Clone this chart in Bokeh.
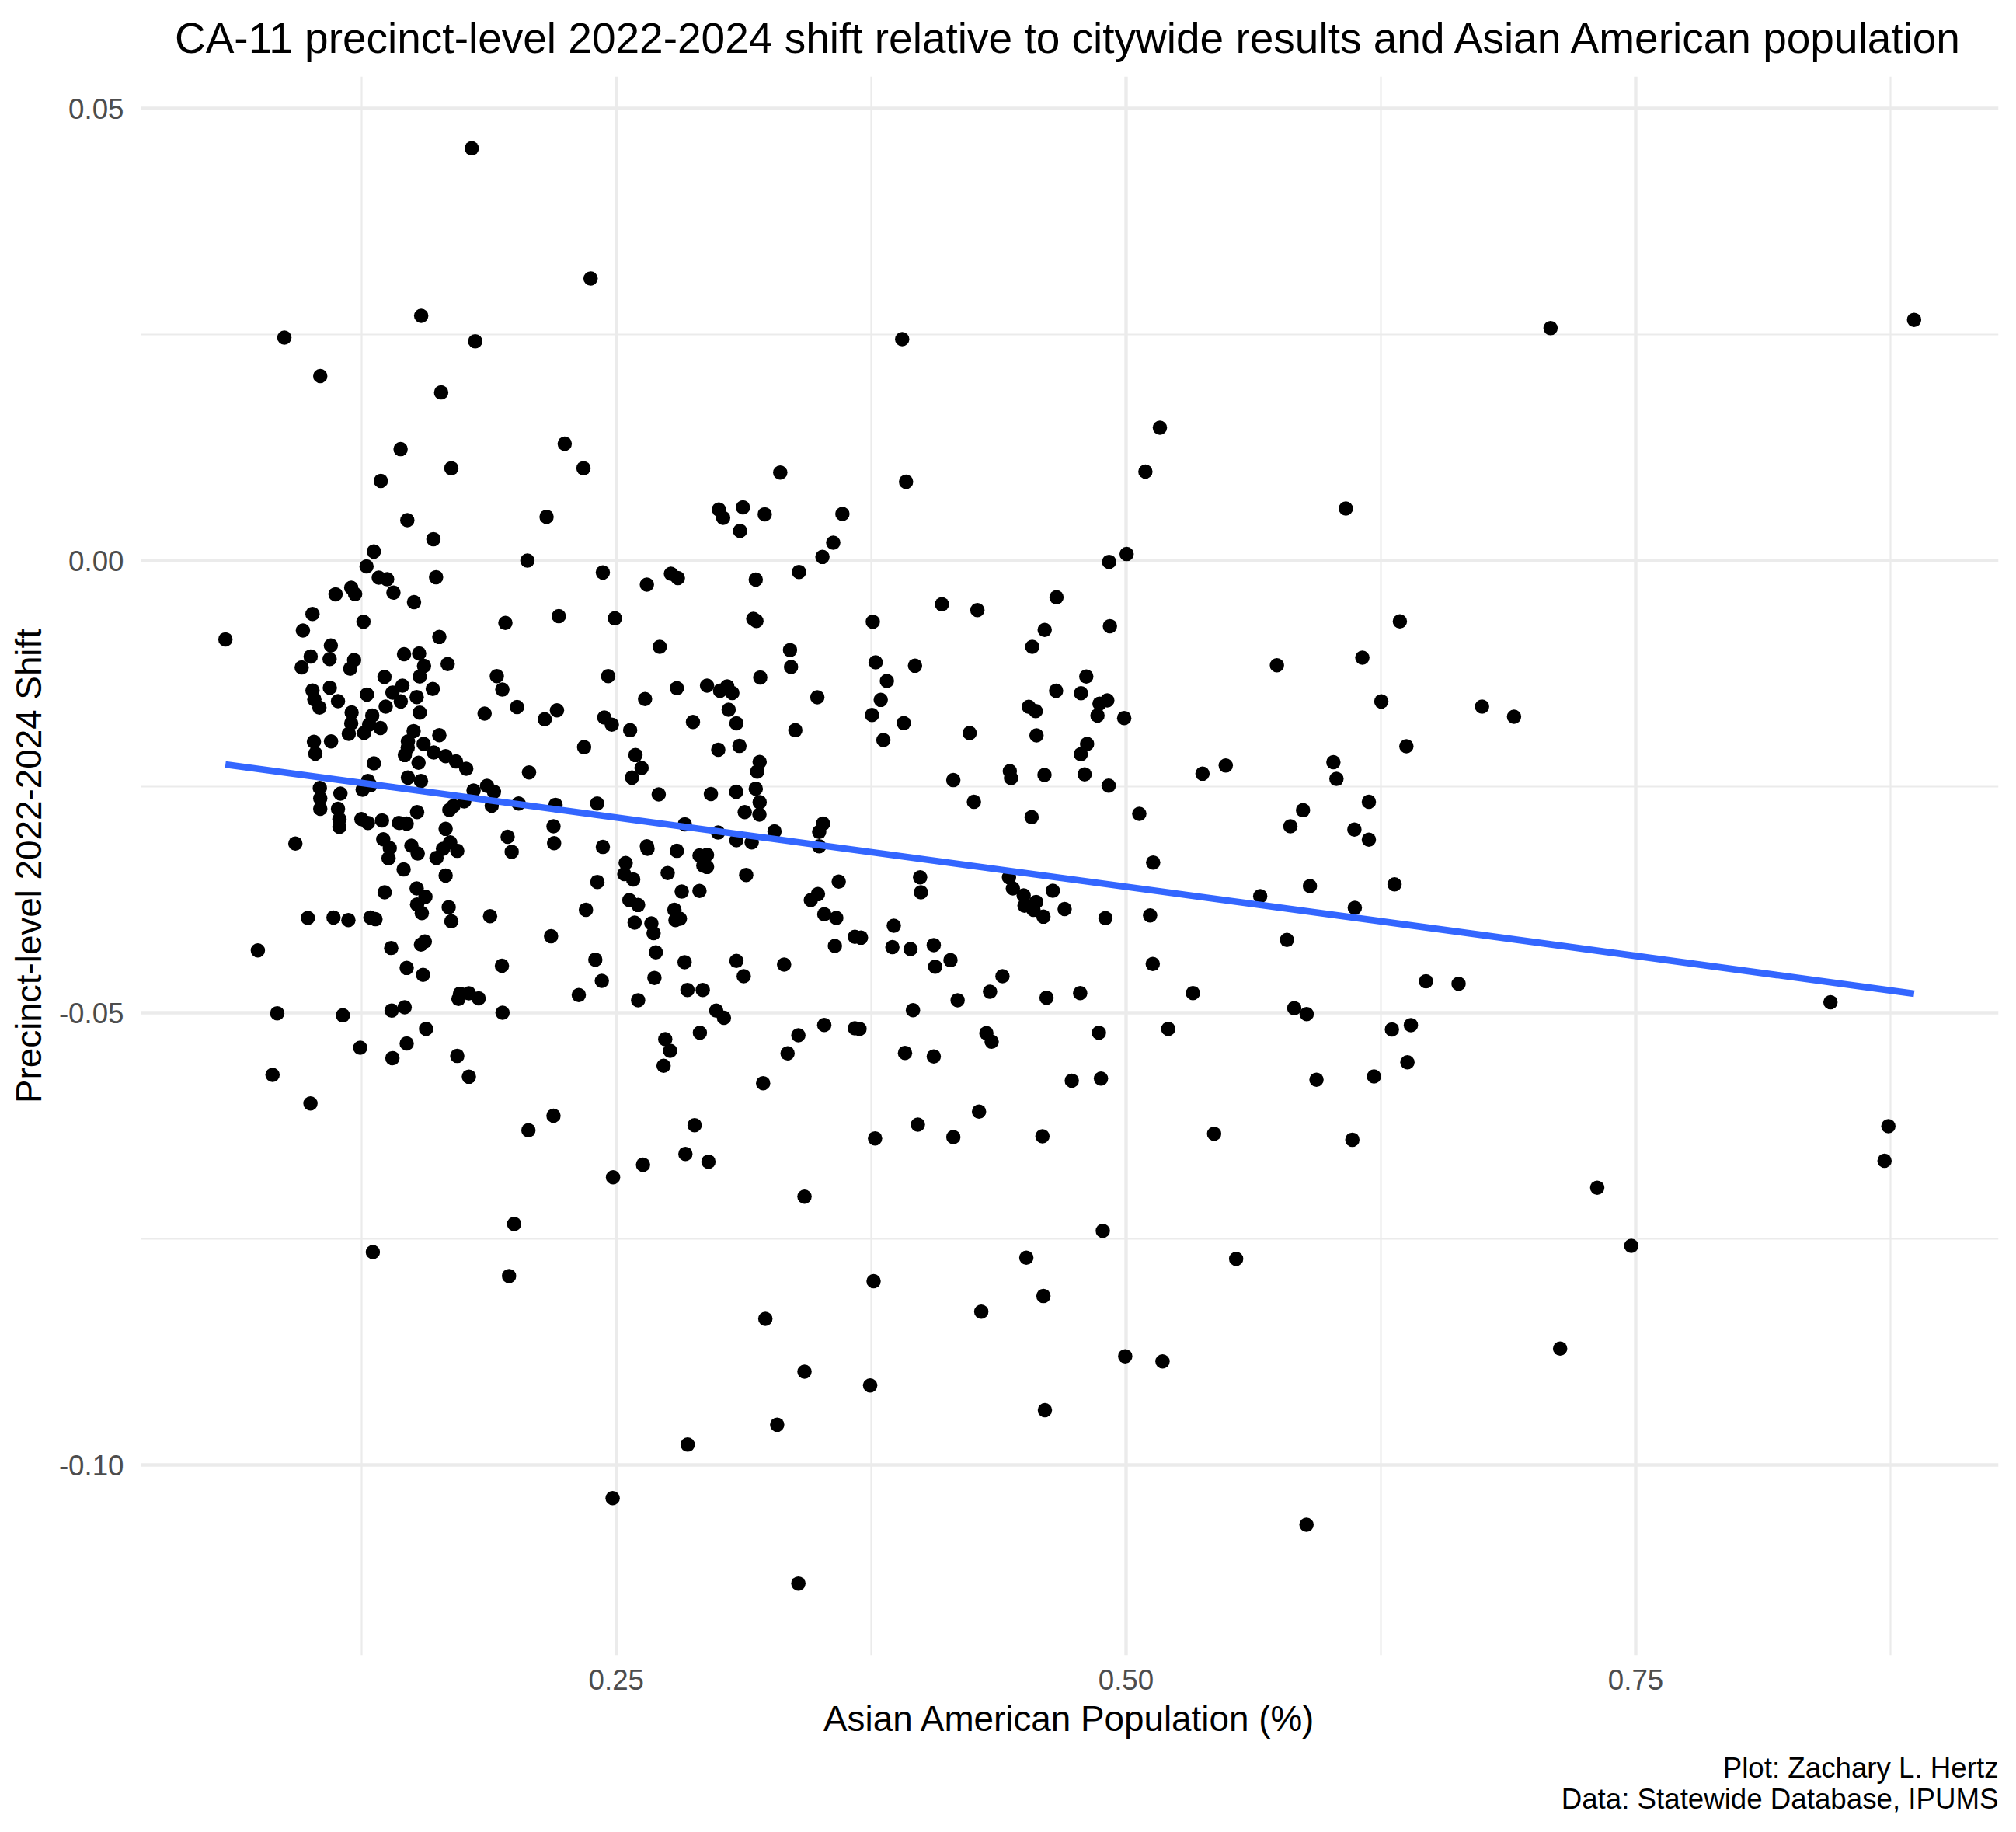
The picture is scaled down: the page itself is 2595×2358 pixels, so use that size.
import numpy as np
from bokeh.plotting import figure
from bokeh.models import Range1d, FixedTicker, NumeralTickFormatter, Title
from bokeh.embed import file_html
from bokeh.resources import INLINE

TITLE = "CA-11 precinct-level 2022-2024 shift relative to citywide results and Asian American population"
X_LABEL = "Asian American Population (%)"
Y_LABEL = "Precinct-level 2022-2024 Shift"
CAPTION_LINES = ["Plot: Zachary L. Hertz", "Data: Statewide Database, IPUMS"]

x_ticks = [0.25, 0.50, 0.75]
x_minor = [0.125, 0.375, 0.625, 0.875]
y_ticks = [-0.10, -0.05, 0.00, 0.05]
y_minor = [-0.075, -0.025, 0.025]

asian_pop = [
    0.1791, 0.2374, 0.1543, 0.0872, 0.1808, 0.3902, 0.1048, 0.1641, 0.5166, 0.1442,
    0.2247, 0.7082, 0.8865, 0.5095, 0.3921, 0.1691, 0.1345, 0.1475, 0.1603, 0.1311,
    0.2064, 0.1275, 0.1335, 0.1376, 0.1407, 0.1616, 0.1123, 0.1200, 0.1219, 0.1508,
    0.1010, 0.1260, 0.0963, 0.0583, 0.1956, 0.1632, 0.1100, 0.1001, 0.0957, 0.1094,
    0.1214, 0.1195, 0.1459, 0.1533, 0.1557, 0.1536, 0.1521, 0.1600, 0.1673, 0.1363,
    0.1451, 0.1402, 0.1443, 0.1277, 0.1010, 0.1019, 0.1044, 0.1095, 0.1135, 0.1914,
    0.1941, 0.2013, 0.1854, 0.1369, 0.1536, 0.1202, 0.1200, 0.1188, 0.1303, 0.1288,
    0.1343, 0.1263, 0.1017, 0.1024, 0.1101, 0.1506, 0.1478, 0.1463, 0.1555, 0.1530,
    0.1477, 0.1632, 0.1605, 0.1663, 0.1714, 0.1764, 0.1311, 0.2072, 0.1282, 0.1294,
    0.1256, 0.1478, 0.1542, 0.1046, 0.1048, 0.1048, 0.1147, 0.1135, 0.1800, 0.1866,
    0.1900, 0.1754, 0.1889, 0.1701, 0.1681, 0.2021, 0.1523, 0.1142, 0.1142, 0.1250,
    0.1282, 0.1351, 0.1434, 0.1472, 0.1663, 0.1685, 0.1720, 0.1618, 0.1650, 0.1967,
    0.1987, 0.0926, 0.1357, 0.1389, 0.1383, 0.1495, 0.1526, 0.1457, 0.1663, 0.1364,
    0.1521, 0.1564, 0.1523, 0.1546, 0.1678, 0.1691, 0.1881, 0.0987, 0.1113, 0.1186,
    0.1294, 0.1319, 0.0742, 0.1396, 0.1542, 0.1561, 0.1472, 0.1552, 0.1939, 0.1733,
    0.1777, 0.1825, 0.1726, 0.0837, 0.1159, 0.1398, 0.1462, 0.1942, 0.1567, 0.1244,
    0.1472, 0.1402, 0.1720, 0.1777, 0.0814, 0.1000, 0.2069, 0.2339, 0.3304, 0.2158,
    0.3003, 0.3024, 0.3121, 0.3228, 0.3107, 0.3609, 0.3564, 0.3511, 0.3396, 0.2434,
    0.2650, 0.2768, 0.2802, 0.3184, 0.2218, 0.2493, 0.3172, 0.3187, 0.2713, 0.3352,
    0.3357, 0.2460, 0.2797, 0.2945, 0.3009, 0.3044, 0.3069, 0.3206, 0.3486, 0.2641,
    0.2209, 0.2149, 0.2441, 0.2478, 0.2568, 0.2876, 0.3051, 0.3089, 0.3378, 0.2342,
    0.2594, 0.2624, 0.2577, 0.3000, 0.3104, 0.3203, 0.3191, 0.3184, 0.3203, 0.3130,
    0.3202, 0.2708, 0.2964, 0.3088, 0.2202, 0.2406, 0.2192, 0.2195, 0.2434, 0.2836,
    0.2999, 0.3089, 0.3164, 0.3276, 0.3514, 0.3495, 0.3495, 0.2650, 0.2653, 0.2797,
    0.2908, 0.2945, 0.2927, 0.2945, 0.2546, 0.2539, 0.2583, 0.2752, 0.2407, 0.3137,
    0.3591, 0.2821, 0.2908, 0.2564, 0.2607, 0.2351, 0.3489, 0.3454, 0.3520, 0.3579,
    0.2785, 0.2790, 0.2812, 0.2590, 0.2672, 0.2683, 0.2180, 0.2694, 0.2397, 0.2429,
    0.2835, 0.3089, 0.3125, 0.3323, 0.3572, 0.3670, 0.2687, 0.2316, 0.2607, 0.2849,
    0.2924, 0.2990, 0.3028, 0.2910, 0.2740, 0.2764, 0.2732, 0.3220, 0.3340, 0.3393,
    0.3520, 0.3670, 0.2192, 0.2884, 0.2839, 0.2952, 0.2631, 0.4097, 0.4271, 0.4659,
    0.5003, 0.4917, 0.4921, 0.4601, 0.4540, 0.3758, 0.3772, 0.3965, 0.3827, 0.3797,
    0.3754, 0.3910, 0.3810, 0.4233, 0.4805, 0.4779, 0.4657, 0.4523, 0.4557, 0.4908,
    0.4870, 0.4860, 0.4991, 0.4561, 0.4809, 0.4778, 0.4430, 0.4436, 0.4153, 0.4600,
    0.4797, 0.4915, 0.5375, 0.4254, 0.4537, 0.5065, 0.5133, 0.3990, 0.3994, 0.4426,
    0.4445, 0.4498, 0.4502, 0.4559, 0.4546, 0.4595, 0.4641, 0.4699, 0.4899, 0.5118,
    0.5131, 0.5328, 0.3700, 0.3861, 0.3854, 0.3943, 0.4057, 0.4064, 0.4139, 0.4394,
    0.4333, 0.4610, 0.4775, 0.4174, 0.3955, 0.3693, 0.4315, 0.4341, 0.4867, 0.5207,
    0.3916, 0.4057, 0.4734, 0.4877, 0.4279, 0.3979, 0.3769, 0.4153, 0.4590, 0.5432,
    0.4886, 0.2484, 0.3423, 0.1999, 0.1306, 0.4511, 0.5540, 0.1974, 0.3762, 0.4595,
    0.3231, 0.4290, 0.4996, 0.5179, 0.3423, 0.3745, 0.4602, 0.3289, 0.2850, 0.2482,
    0.3393, 0.6078, 0.6343, 0.5740, 0.6159, 0.6252, 0.6746, 0.6903, 0.6375, 0.5489,
    0.6017, 0.6032, 0.5868, 0.5806, 0.6191, 0.6120, 0.6191, 0.5902, 0.5658, 0.6317,
    0.6122, 0.5789, 0.6471, 0.6631, 0.8455, 0.5825, 0.5886, 0.6304, 0.6397, 0.6380,
    0.5934, 0.6216, 0.6110, 0.8739, 0.8720, 0.7311, 0.7478, 0.7129, 0.5885,
]

shift = [
    0.04562, 0.03122, 0.02709, 0.02469, 0.02429, 0.02452, 0.02043, 0.01862, 0.01472, 0.01235,
    0.01295, 0.02573, 0.02665, 0.00987, 0.00874, 0.01024, 0.00884, 0.00450, 0.00240, 0.00103,
    0.00002, -0.00062, -0.00186, -0.00204, -0.00352, -0.00181, -0.00370, -0.00298, -0.00369, -0.00456,
    -0.00588, -0.00673, -0.00770, -0.00868, -0.00687, -0.00842, -0.00936, -0.01057, -0.01179, -0.01086,
    -0.01097, -0.01194, -0.01032, -0.01023, -0.01162, -0.01280, -0.01506, -0.01417, -0.01142, -0.01283,
    -0.01380, -0.01458, -0.01555, -0.01478, -0.01435, -0.01532, -0.01623, -0.01403, -0.01552, -0.01275,
    -0.01424, -0.01617, -0.01690, -0.01612, -0.01679, -0.01676, -0.01797, -0.01913, -0.01710, -0.01811,
    -0.01848, -0.01902, -0.02001, -0.02131, -0.01996, -0.01882, -0.01996, -0.02148, -0.02024, -0.02233,
    -0.02067, -0.01927, -0.02119, -0.02159, -0.02219, -0.02300, -0.02240, -0.02340, -0.02434, -0.02483,
    -0.02532, -0.02397, -0.02434, -0.02512, -0.02627, -0.02741, -0.02574, -0.02741, -0.02540, -0.02489,
    -0.02554, -0.02661, -0.02707, -0.02712, -0.02755, -0.02684, -0.02778, -0.02856, -0.02941, -0.02856,
    -0.02898, -0.02870, -0.02898, -0.02906, -0.02964, -0.03113, -0.03207, -0.03285, -0.03184, -0.03051,
    -0.03218, -0.03127, -0.03079, -0.03176, -0.03289, -0.03150, -0.03237, -0.03413, -0.03480, -0.03666,
    -0.03622, -0.03715, -0.03800, -0.03895, -0.03830, -0.03986, -0.03929, -0.03949, -0.03944, -0.03972,
    -0.03944, -0.03963, -0.04308, -0.04281, -0.04244, -0.04209, -0.04502, -0.04579, -0.04477, -0.04788,
    -0.04782, -0.04839, -0.04845, -0.05003, -0.05026, -0.04974, -0.04937, -0.04997, -0.05175, -0.05384,
    -0.05337, -0.05499, -0.05475, -0.05705, -0.05685, -0.06000, -0.06297, 0.01024, 0.00976, 0.00487,
    0.00567, 0.00476, 0.00591, 0.00515, 0.00332, 0.00518, 0.00200, 0.00043, -0.00123, -0.00129,
    -0.00264, -0.00143, -0.00191, -0.00207, -0.00612, -0.00636, -0.00642, -0.00665, -0.00951, -0.00986,
    -0.01174, -0.01275, -0.01408, -0.01380, -0.01437, -0.01388, -0.01461, -0.01289, -0.01509, -0.01529,
    -0.01653, -0.01752, -0.01733, -0.01811, -0.01873, -0.01782, -0.01647, -0.01797, -0.01873, -0.02060,
    -0.02148, -0.02291, -0.02397, -0.02088, -0.02047, -0.02225, -0.02331, -0.02520, -0.02670, -0.02778,
    -0.02806, -0.02583, -0.02579, -0.02554, -0.02698, -0.02684, -0.02935, -0.03122, -0.03164, -0.02913,
    -0.03005, -0.03090, -0.03113, -0.02992, -0.02906, -0.02998, -0.03156, -0.03156, -0.03184, -0.03207,
    -0.03257, -0.03250, -0.03371, -0.03385, -0.03342, -0.03463, -0.03523, -0.03452, -0.03551, -0.03474,
    -0.03548, -0.03658, -0.03651, -0.03752, -0.03806, -0.03858, -0.03686, -0.03752, -0.03909, -0.03949,
    -0.03858, -0.03972, -0.03958, -0.04000, -0.04009, -0.04116, -0.04150, -0.04330, -0.04410, -0.04645,
    -0.04438, -0.04424, -0.04593, -0.04465, -0.04259, -0.04158, -0.04612, -0.04802, -0.04859, -0.04746,
    -0.04746, -0.04974, -0.05053, -0.05218, -0.05290, -0.05418, -0.05584, -0.05776, -0.05446, -0.05246,
    -0.05132, -0.05169, -0.06135, -0.06240, -0.06558, -0.06644, -0.06678, -0.00481, -0.00544, -0.00403,
    0.00075, -0.00011, -0.00722, -0.00764, -0.00951, -0.00673, -0.01123, -0.01160, -0.01329, -0.01538,
    -0.01704, -0.01795, -0.01981, -0.01905, -0.01280, -0.01464, -0.01437, -0.01615, -0.01661, -0.01543,
    -0.01580, -0.01710, -0.01738, -0.01930, -0.02024, -0.02139, -0.02325, -0.02402, -0.02425, -0.02368,
    -0.02362, -0.02486, -0.02354, -0.02664, -0.02835, -0.02798, -0.03336, -0.03500, -0.03666, -0.03500,
    -0.03622, -0.03700, -0.03814, -0.03772, -0.03858, -0.03935, -0.03648, -0.03851, -0.03952, -0.03921,
    -0.04458, -0.04780, -0.04167, -0.04035, -0.04272, -0.04293, -0.04249, -0.04488, -0.04416, -0.04593,
    -0.04765, -0.04831, -0.04780, -0.04859, -0.04969, -0.05175, -0.05223, -0.05318, -0.05218, -0.05175,
    -0.05441, -0.05481, -0.05748, -0.05725, -0.06091, -0.06234, -0.06386, -0.06372, -0.06364, -0.06335,
    -0.07409, -0.06817, -0.07032, -0.07333, -0.07643, -0.07706, -0.07719, -0.07909, -0.07965, -0.08130,
    -0.08383, -0.08303, -0.08796, -0.08853, -0.08967, -0.09119, -0.09392, -0.09554, -0.09773, -0.10365,
    -0.11309, 0.00578, -0.00670, -0.01155, -0.01071, -0.01555, -0.01612, -0.01724, -0.02050, -0.02264,
    -0.02227, -0.02412, -0.02758, -0.02935, -0.02664, -0.02971, -0.03083, -0.03597, -0.03708, -0.03577,
    -0.03838, -0.04192, -0.04649, -0.04677, -0.04882, -0.04947, -0.05013, -0.05181, -0.05134, -0.05545,
    -0.05739, -0.05702, -0.06401, -0.06251, -0.06634, -0.06932, -0.07575, -0.08711, -0.10659,
]

assert len(asian_pop) == len(shift)

FONT = "Liberation Sans"
x = np.array(asian_pop)
y = np.array(shift)


def expand(a, frac=0.05):
    lo, hi = float(a.min()), float(a.max())
    d = (hi - lo) * frac
    return lo - d, hi + d


xlo, xhi = expand(x)
ylo, yhi = expand(y)

p = figure(
    width=2579, height=2350,
    output_backend="svg", toolbar_location=None,
    x_range=Range1d(xlo, xhi), y_range=Range1d(ylo, yhi),
    min_border_left=181, min_border_right=7,
    min_border_top=98, min_border_bottom=220,
    background_fill_color="white", border_fill_color="white",
)
p.outline_line_color = None

# title
p.title.text = TITLE
p.title.align = "center"
p.title.vertical_align = "top"
p.title.text_font = FONT
p.title.text_font_size = "55px"
p.title.text_font_style = "normal"
p.title.text_color = "black"
p.title.standoff = 33

# grids
GRID = "#EBEBEB"
for g, maj, mnr in ((p.xgrid, x_ticks, x_minor), (p.ygrid, y_ticks, y_minor)):
    g.ticker = FixedTicker(ticks=maj, minor_ticks=mnr)
    g.grid_line_color = GRID
    g.grid_line_width = 4.4
    g.minor_grid_line_color = GRID
    g.minor_grid_line_width = 2.2

# axes
for ax, maj, mnr in ((p.xaxis[0], x_ticks, x_minor), (p.yaxis[0], y_ticks, y_minor)):
    ax.ticker = FixedTicker(ticks=maj, minor_ticks=mnr)
    ax.formatter = NumeralTickFormatter(format="0.00")
    ax.axis_line_color = None
    ax.major_tick_line_color = None
    ax.minor_tick_line_color = None
    ax.major_tick_out = 0
    ax.major_tick_in = 0
    ax.minor_tick_out = 0
    ax.minor_tick_in = 0
    ax.major_label_text_font = FONT
    ax.major_label_text_font_size = "36.7px"
    ax.major_label_text_color = "#4D4D4D"
    ax.axis_label_text_font = FONT
    ax.axis_label_text_font_size = "45.8px"
    ax.axis_label_text_font_style = "normal"
    ax.axis_label_text_color = "black"

p.xaxis.axis_label = X_LABEL
p.xaxis.major_label_standoff = 18
p.xaxis.axis_label_standoff = 9
p.yaxis.axis_label = Y_LABEL
p.yaxis.major_label_standoff = 22
p.yaxis.axis_label_standoff = 10

# points
p.scatter(x, y, size=18.5, fill_color="black", line_color="black", line_width=0)

# linear fit (geom_smooth(method = "lm", se = FALSE))
slope, intercept = np.polyfit(x, y, 1)
xs = np.array([x.min(), x.max()])
p.line(xs, intercept + slope * xs, line_color="#3366FF", line_width=8.5)

# caption, right aligned, one title per line
for i, line in enumerate(CAPTION_LINES):
    cap = Title(text=line, align="right", vertical_align="top", text_font=FONT,
                text_font_size="36.7px", text_font_style="normal", text_color="black",
                standoff=28 if i == 0 else -33)
    p.add_layout(cap, "below")

open("out.html", "w").write(file_html(p, INLINE))
